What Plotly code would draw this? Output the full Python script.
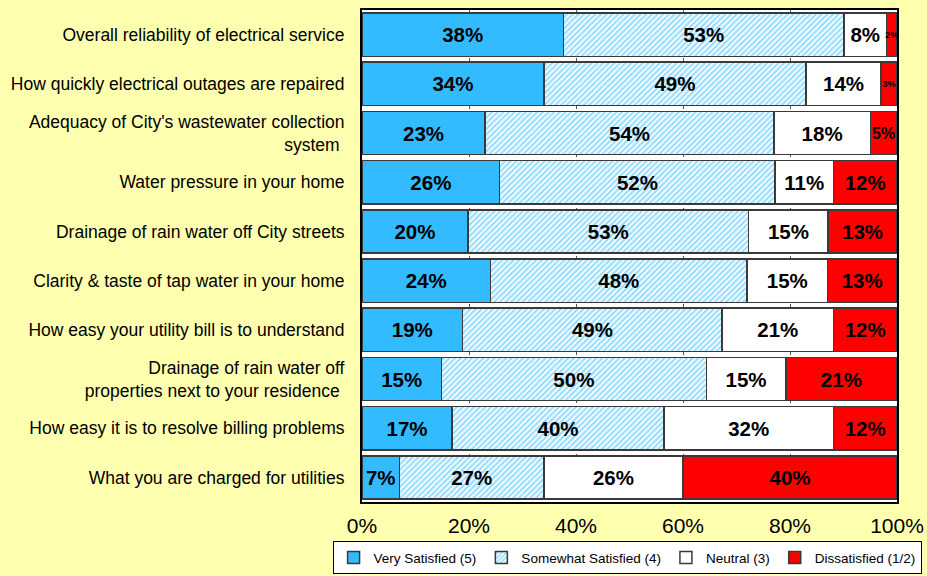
import plotly.graph_objects as go

# Survey items, top to bottom
items = [
    "Overall reliability of electrical service",
    "How quickly electrical outages are repaired",
    "Adequacy of City's wastewater collection<br>system ",
    "Water pressure in your home",
    "Drainage of rain water off City streets",
    "Clarity & taste of tap water in your home",
    "How easy your utility bill is to understand",
    "Drainage of rain water off<br>properties next to your residence ",
    "How easy it is to resolve billing problems",
    "What you are charged for utilities",
]

very_satisfied = [38, 34, 23, 26, 20, 24, 19, 15, 17, 7]
somewhat_satisfied = [53, 49, 54, 52, 53, 48, 49, 50, 40, 27]
neutral = [8, 14, 18, 11, 15, 15, 21, 15, 32, 26]
dissatisfied = [2, 3, 5, 12, 13, 13, 12, 21, 12, 40]

x_ticks = [0, 20, 40, 60, 80, 100]
x_tick_labels = ["0%", "20%", "40%", "60%", "80%", "100%"]

BLUE = "#33BBFF"
RED = "#FF0000"
OUTLINE = "#3a3a3a"
PAPER = "#FFFFB0"
FONT = "Liberation Sans, Arial, sans-serif"

series = [
    ("Very Satisfied (5)", very_satisfied, dict(color=BLUE)),
    ("Somewhat Satisfied (4)", somewhat_satisfied,
     dict(color="white", pattern=dict(shape="/", fgcolor=BLUE, bgcolor="white",
                                      size=4, solidity=0.55, fillmode="overlay"))),
    ("Neutral (3)", neutral, dict(color="white")),
    ("Dissatisfied (1/2)", dissatisfied, dict(color=RED)),
]


def label_size(v):
    # narrow segments get smaller labels so they stay inside the bar
    if v <= 3:
        return 9
    if v <= 5:
        return 16
    return 20.5


fig = go.Figure()
for name, vals, mk in series:
    fig.add_trace(go.Bar(
        y=items,
        x=vals,
        name=name,
        orientation="h",
        marker=dict(line=dict(color=OUTLINE, width=1.5), **mk),
        text=[f"{v}%" for v in vals],
        texttemplate="%{text}",
        textposition="inside",
        insidetextanchor="middle",
        textangle=0,
        constraintext="none",
        textfont=dict(family=FONT, color="black",
                      size=[label_size(v) for v in vals], weight="bold"),
        hoverinfo="skip",
    ))

fig.update_layout(
    width=927,
    height=576,
    barmode="stack",
    barnorm="percent",
    bargap=0.12,
    paper_bgcolor=PAPER,
    plot_bgcolor="white",
    margin=dict(l=362, r=30, t=10, b=74, autoexpand=False),
    font=dict(family=FONT, color="black"),
    showlegend=True,
    legend=dict(
        orientation="h",
        x=-0.055, xanchor="left",
        y=-0.147, yanchor="bottom",
        bgcolor="white",
        bordercolor="black",
        borderwidth=1,
        font=dict(size=13.5),
        itemwidth=30,
        traceorder="normal",
        tracegroupgap=0,
    ),
)

fig.update_xaxes(
    range=[0, 100],
    tickvals=x_ticks,
    ticktext=x_tick_labels,
    tickfont=dict(size=21),
    ticks="",
    ticklabelstandoff=4,
    automargin=False,
    showgrid=True,
    gridcolor="#555555",
    gridwidth=1,
    griddash="dot",
    showline=True,
    linecolor="black",
    linewidth=2,
    mirror=True,
    zeroline=False,
    fixedrange=True,
)

fig.update_yaxes(
    autorange="reversed",
    tickfont=dict(size=17.5),
    ticks="",
    automargin=False,
    ticklabelstandoff=12,
    showline=True,
    linecolor="black",
    linewidth=2,
    mirror=True,
    showgrid=False,
    fixedrange=True,
)

fig.write_html("out.html")
